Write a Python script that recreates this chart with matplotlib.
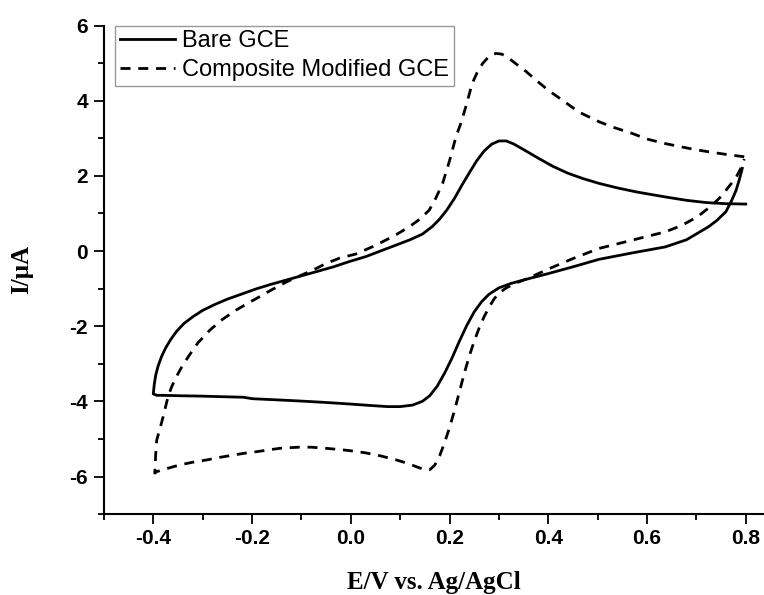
import matplotlib
matplotlib.use("Agg")
from matplotlib import pyplot as plt

# Bare GCE: upper (oxidation) branch read from 0.8 back to -0.4,
# then the lower branch read from -0.4 to 0.8
bare_x = [0.800, 0.760, 0.720, 0.680, 0.637, 0.580, 0.540, 0.503, 0.470, 0.440,
          0.410, 0.380, 0.350, 0.330, 0.315, 0.300, 0.285, 0.270, 0.255, 0.240,
          0.225, 0.210, 0.195, 0.180, 0.165, 0.145, 0.120, 0.090, 0.060, 0.030,
          -0.003, -0.035, -0.070, -0.100, -0.130, -0.160, -0.190, -0.220, -0.250,
          -0.275, -0.300, -0.320, -0.338, -0.353, -0.365, -0.375, -0.383, -0.390,
          -0.395, -0.398, -0.400,
          -0.393, -0.380, -0.350, -0.306, -0.250, -0.218, -0.199, -0.150, -0.104,
          -0.050, -0.003, 0.040, 0.075, 0.100, 0.125, 0.145, 0.160, 0.175, 0.190,
          0.205, 0.220, 0.235, 0.250, 0.265, 0.280, 0.300, 0.325, 0.350, 0.400,
          0.450, 0.503, 0.570, 0.637, 0.680, 0.702, 0.725, 0.742, 0.760, 0.772,
          0.780, 0.787, 0.793]
bare_y = [1.25, 1.26, 1.29, 1.35, 1.44, 1.57, 1.68, 1.80, 1.93, 2.07,
          2.25, 2.47, 2.70, 2.85, 2.93, 2.93, 2.84, 2.66, 2.40, 2.08,
          1.75, 1.40, 1.10, 0.85, 0.65, 0.45, 0.30, 0.15, 0.00, -0.15,
          -0.28, -0.42, -0.55, -0.66, -0.77, -0.88, -1.00, -1.14, -1.28,
          -1.42, -1.58, -1.75, -1.93, -2.14, -2.36, -2.58, -2.80, -3.05,
          -3.30, -3.55, -3.80,
          -3.84, -3.84, -3.85, -3.86, -3.88, -3.89, -3.93, -3.96, -3.99,
          -4.03, -4.07, -4.11, -4.14, -4.14, -4.10, -4.00, -3.85, -3.60, -3.25,
          -2.85, -2.40, -1.98, -1.62, -1.35, -1.15, -0.98, -0.86, -0.77, -0.60,
          -0.42, -0.22, -0.05, 0.11, 0.30, 0.47, 0.65, 0.82, 1.05, 1.36,
          1.60, 1.90, 2.20]

# Composite modified GCE, same reading order
comp_x = [0.797, 0.772, 0.735, 0.702, 0.670, 0.637, 0.600, 0.570, 0.535, 0.503,
          0.462, 0.428, 0.400, 0.375, 0.355, 0.334, 0.318, 0.306, 0.294, 0.280,
          0.267, 0.256, 0.246, 0.233, 0.223, 0.213, 0.200, 0.186, 0.172, 0.159,
          0.140, 0.119, 0.090, 0.050, 0.010, -0.023, -0.050, -0.077, -0.105,
          -0.130, -0.160, -0.184, -0.210, -0.232, -0.260, -0.285, -0.310, -0.329,
          -0.343, -0.353, -0.363, -0.370, -0.380, -0.387, -0.393, -0.395, -0.397,
          -0.393, -0.370, -0.346, -0.320, -0.292, -0.265, -0.238, -0.215, -0.191,
          -0.165, -0.144, -0.120, -0.104, -0.080, -0.050, -0.025, -0.003, 0.030,
          0.060, 0.090, 0.115, 0.135, 0.150, 0.160, 0.170, 0.180, 0.190, 0.200,
          0.210, 0.220, 0.230, 0.240, 0.250, 0.260, 0.270, 0.280, 0.290, 0.300,
          0.315, 0.335, 0.360, 0.400, 0.450, 0.503, 0.570, 0.637, 0.670, 0.702,
          0.730, 0.750, 0.765, 0.780, 0.790, 0.797]
comp_y = [2.51, 2.55, 2.62, 2.69, 2.77, 2.86, 2.98, 3.13, 3.28, 3.44,
          3.70, 4.02, 4.28, 4.55, 4.78, 4.99, 5.15, 5.24, 5.26, 5.18,
          4.99, 4.75, 4.46, 3.84, 3.40, 3.04, 2.40, 1.80, 1.40, 1.09,
          0.85, 0.65, 0.42, 0.15, -0.08, -0.19, -0.33, -0.51, -0.67,
          -0.82, -1.03, -1.21, -1.40, -1.57, -1.82, -2.10, -2.45, -2.81,
          -3.10, -3.34, -3.62, -3.87, -4.41, -4.75, -5.03, -5.40, -5.91,
          -5.87, -5.78, -5.69, -5.62, -5.56, -5.49, -5.43, -5.38, -5.34,
          -5.29, -5.25, -5.23, -5.22, -5.22, -5.25, -5.28, -5.31, -5.37,
          -5.45, -5.55, -5.65, -5.75, -5.82, -5.82, -5.70, -5.45, -5.10, -4.70,
          -4.25, -3.75, -3.25, -2.80, -2.40, -2.05, -1.75, -1.50, -1.28, -1.12,
          -0.98, -0.85, -0.72, -0.48, -0.20, 0.07, 0.29, 0.51, 0.68, 0.91,
          1.20, 1.45, 1.70, 1.95, 2.20, 2.45]

x_major = [-0.4, -0.2, 0.0, 0.2, 0.4, 0.6, 0.8]
x_minor = [-0.5, -0.3, -0.1, 0.1, 0.3, 0.5, 0.7]
y_major = [-6, -4, -2, 0, 2, 4, 6]
y_minor = [-7, -5, -3, -1, 1, 3, 5]

fig = plt.figure(figsize=(7.64, 5.95), dpi=100)
ax = fig.add_axes([0.136, 0.136, 0.864, 0.821])

ax.plot(bare_x, bare_y, color="black", lw=2.0, label="Bare GCE")
ax.plot(comp_x, comp_y, color="black", lw=2.0, ls=(0, (3.6, 2.8)),
        label="Composite Modified GCE")

ax.set_xlim(-0.5, 0.837)
ax.set_ylim(-7, 6)
ax.set_xticks(x_major)
ax.set_xticks(x_minor, minor=True)
ax.set_yticks(y_major)
ax.set_yticks(y_minor, minor=True)
ax.set_xticklabels([f"{v:.1f}" for v in x_major])
ax.set_yticklabels([str(v) for v in y_major])

for s in ["top", "right"]:
    ax.spines[s].set_visible(False)
for s in ["left", "bottom"]:
    ax.spines[s].set_linewidth(1.5)

ax.tick_params(which="major", direction="out", length=7.5, width=1.3, pad=3)
ax.tick_params(which="minor", direction="out", length=4.5, width=1.3)
ax.tick_params(axis="y", which="major", pad=4)
for lab in ax.get_xticklabels() + ax.get_yticklabels():
    lab.set_fontfamily("Liberation Sans")
    lab.set_fontweight("bold")
    lab.set_fontsize(15)

ax.set_xlabel("E/V vs. Ag/AgCl", fontfamily="Liberation Serif", fontweight="bold",
              fontsize=18, labelpad=17)
ax.set_ylabel("I/\u03bcA", fontfamily="Liberation Serif", fontweight="bold",
              fontsize=18, labelpad=26)

leg = ax.legend(loc="upper left", bbox_to_anchor=(0.017, 1.0), borderaxespad=0,
                frameon=True, fancybox=False, handlelength=2.35, handletextpad=0.3,
                borderpad=0.2, labelspacing=0.3,
                prop={"family": "Liberation Sans", "size": 17})
leg.get_frame().set_edgecolor("#808080")
leg.get_frame().set_linewidth(1.0)

plt.savefig("out.png", dpi=100)
plt.close()
